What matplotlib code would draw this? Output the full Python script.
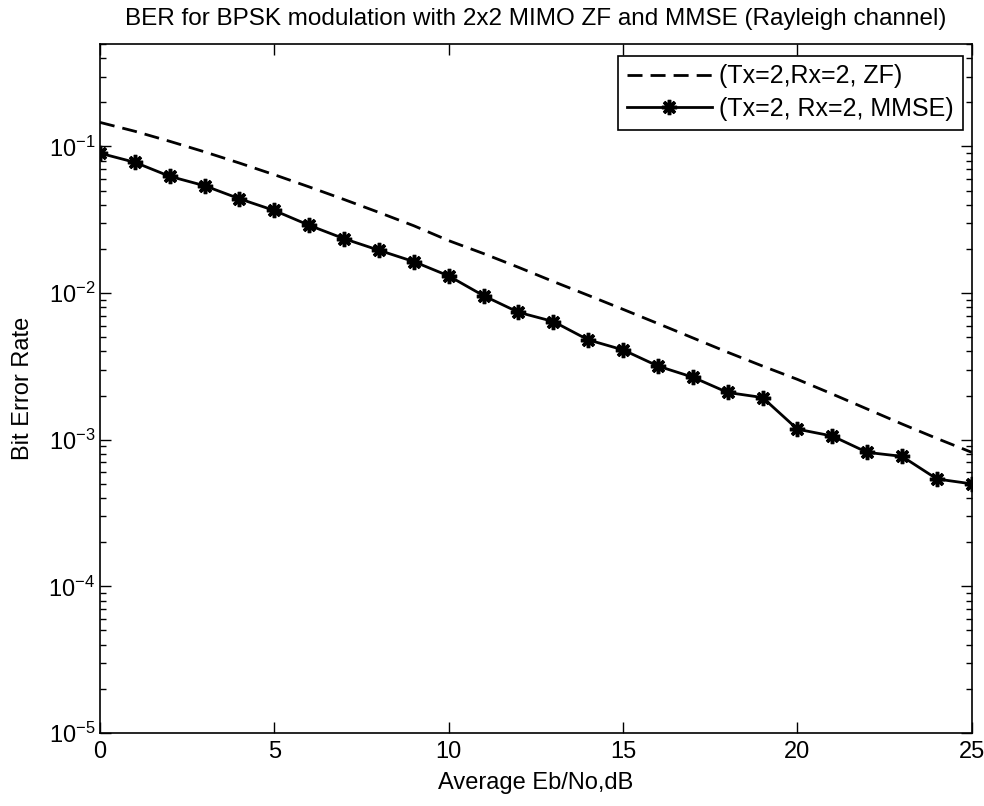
import matplotlib
matplotlib.use("Agg")
import matplotlib.pyplot as plt
from matplotlib.ticker import LogLocator, NullFormatter

# =====================================
# Datos
# =====================================

eb_no_db = list(range(0, 26))

ber_zf = [0.146, 0.127, 0.1085, 0.0919, 0.0771, 0.0642, 0.0530, 0.0435,
          0.0355, 0.0288, 0.0228, 0.0186, 0.0150, 0.0120, 0.00966, 0.00775,
          0.00620, 0.00495, 0.00395, 0.00318, 0.00258, 0.00205, 0.00162,
          0.00128, 0.00102, 0.00082]

ber_mmse = [0.090, 0.078, 0.0626, 0.054, 0.044, 0.0366, 0.029, 0.0235,
            0.0196, 0.0164, 0.0131, 0.0096, 0.0074, 0.0064, 0.0048, 0.0041,
            0.00318, 0.00267, 0.0021, 0.00194, 0.00118, 0.00106, 0.00082,
            0.00077, 0.00054, 0.0005]

etiquetas = ["(Tx=2,Rx=2, ZF)", "(Tx=2, Rx=2, MMSE)"]

plt.rcParams['font.family'] = ['Liberation Sans', 'DejaVu Sans']
plt.rcParams['mathtext.fontset'] = 'custom'
plt.rcParams['mathtext.rm'] = 'Liberation Sans'

fig = plt.figure(figsize=(9.84, 8.06), dpi=100)
ax = fig.add_axes([0.1016, 0.0906, 0.886, 0.8548])

ax.semilogy(eb_no_db, ber_zf, color='black', linestyle='--', linewidth=2,
            dashes=(5.4, 2.9), label=etiquetas[0])
ax.semilogy(eb_no_db, ber_mmse, color='black', linestyle='-', linewidth=2,
            marker=(8, 2, 0), markersize=11, markeredgewidth=2.5,
            label=etiquetas[1])

ax.set_xlim(0, 25)
ax.set_ylim(1e-5, 0.5)
ax.set_xticks([0, 5, 10, 15, 20, 25])
ax.yaxis.set_major_locator(LogLocator(base=10, numticks=10))
ax.yaxis.set_minor_locator(LogLocator(base=10, subs=range(2, 10), numticks=10))
ax.yaxis.set_minor_formatter(NullFormatter())

ax.tick_params(which='both', direction='in', top=True, right=True,
               labelsize=17, color='black')
ax.tick_params(axis='x', pad=6)
ax.tick_params(which='major', length=8, width=1)
ax.tick_params(which='minor', length=4, width=1)
for lado in ax.spines.values():
    lado.set_linewidth(1.2)

ax.set_title("BER for BPSK modulation with 2x2 MIMO ZF and MMSE (Rayleigh channel)",
             fontsize=17.5, pad=14)
ax.set_xlabel("Average Eb/No,dB", fontsize=17, labelpad=6)
ax.set_ylabel("Bit Error Rate", fontsize=17, labelpad=10)

leg = ax.legend(loc='upper right', bbox_to_anchor=(0.9895, 0.983), fontsize=18,
                fancybox=False, edgecolor='black', framealpha=1,
                handlelength=3.4, borderpad=0.35, labelspacing=0.35,
                handletextpad=0.3, borderaxespad=0)
leg.get_frame().set_linewidth(1.2)

fig.savefig("out.png", dpi=100)
